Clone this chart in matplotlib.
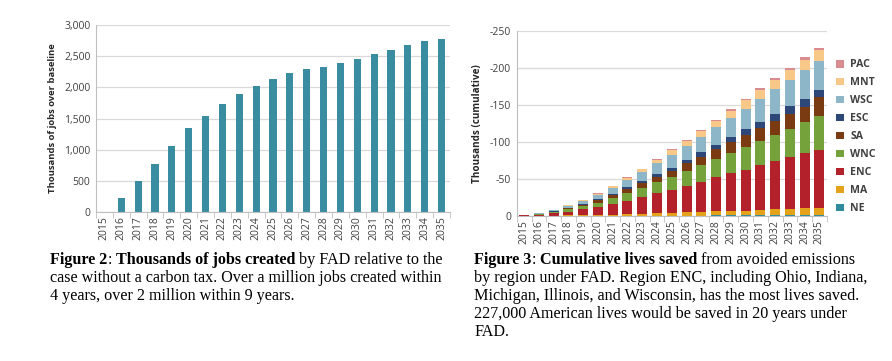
import matplotlib
matplotlib.use("Agg")
import matplotlib.pyplot as plt
import numpy as np

years = [str(y) for y in range(2015, 2036)]

# Figure 2: thousands of jobs over baseline
jobs = [0, 224, 502, 769, 1062, 1340, 1543, 1730, 1890, 2029, 2136,
        2232, 2296, 2333, 2387, 2456, 2536, 2600, 2675, 2739, 2782]

# Figure 3: cumulative lives saved by region (thousands, negative = saved)
NE  = [0.0, 0.0, 0.0, 0.1, 0.1, 0.1, 0.2, 0.3, 0.3, 0.4, 0.4, 0.5, 0.6, 0.7, 0.7, 0.8, 0.9, 0.9, 1.0, 1.0, 1.0]
MA  = [0.1, 0.2, 0.4, 0.7, 1.0, 1.4, 1.8, 2.3, 2.9, 3.5, 3.2, 4.6, 5.2, 5.9, 6.5, 6.0, 7.7, 8.4, 9.0, 9.6, 9.5]
ENC = [0.6, 1.4, 3.0, 5.2, 7.7, 10.7, 14.3, 18.2, 22.4, 27.0, 31.5, 36.0, 40.6, 45.5, 50.4, 55.2, 60.2, 65.1, 70.0, 74.9, 78.5]
WNC = [0.3, 0.8, 1.6, 2.9, 4.2, 5.8, 7.8, 9.9, 12.2, 14.6, 18.0, 19.6, 22.0, 24.7, 27.4, 31.7, 32.7, 35.3, 38.0, 40.7, 46.0]
SA  = [0.2, 0.4, 0.9, 1.5, 2.2, 3.1, 4.1, 5.2, 6.4, 7.7, 8.0, 10.3, 11.6, 13.0, 14.4, 15.8, 17.2, 18.6, 20.0, 21.4, 25.0]
ESC = [0.1, 0.2, 0.4, 0.7, 1.1, 1.5, 2.1, 2.6, 3.2, 3.9, 4.0, 5.2, 5.8, 6.5, 7.2, 8.5, 8.6, 9.3, 10.0, 10.7, 10.0]
WSC = [0.2, 0.7, 1.5, 2.7, 4.0, 5.5, 7.4, 9.4, 11.5, 13.9, 17.0, 18.5, 20.9, 23.4, 25.9, 27.0, 31.0, 33.5, 36.0, 38.5, 39.0]
MNT = [0.1, 0.3, 0.6, 1.0, 1.4, 2.0, 2.7, 3.4, 4.2, 5.0, 6.8, 6.7, 7.5, 8.5, 9.4, 11.0, 11.2, 12.1, 13.0, 13.9, 15.0]
PAC = [0.0, 0.1, 0.1, 0.2, 0.3, 0.4, 0.6, 0.7, 0.9, 1.1, 1.1, 1.5, 1.7, 1.9, 2.2, 2.0, 2.5, 2.8, 3.0, 3.3, 3.0]

region_names = ["NE", "MA", "ENC", "WNC", "SA", "ESC", "WSC", "MNT", "PAC"]
region_vals = [NE, MA, ENC, WNC, SA, ESC, WSC, MNT, PAC]
region_colors = ["#2E8B9E", "#E3A21A", "#B3222A", "#76A23B", "#7A3A12",
                 "#2D4778", "#8EB6C9", "#F7C888", "#D98B90"]

SANS = ["Open Sans", "DejaVu Sans"]
SERIF = ["Liberation Serif", "DejaVu Serif"]
plt.rcParams['font.family'] = SANS

fig = plt.figure(figsize=(8.92, 3.61), dpi=100)

grid_c = "#D9D9D9"
axis_c = "#BFBFBF"
tick_fs = 7.5

def style_axes(ax):
    for s in ["top", "right"]:
        ax.spines[s].set_visible(False)
    ax.spines["left"].set_color(axis_c)
    ax.spines["bottom"].set_color(axis_c)
    ax.set_axisbelow(True)
    ax.yaxis.grid(True, color=grid_c, linewidth=0.9)
    ax.tick_params(axis="y", length=0, labelsize=tick_fs, colors="#404040", pad=4)
    ax.tick_params(axis="x", which="major", length=0, labelsize=tick_fs,
                   colors="#404040", labelrotation=90, pad=3)
    ax.set_xticks(np.arange(-0.5, len(years) + 0.5, 1), minor=True)
    ax.tick_params(axis="x", which="minor", length=4, color=axis_c, direction="out")
    ax.set_xlim(-0.5, len(years) - 0.5)

# Left chart
ax1 = fig.add_axes([0.1076, 0.4127, 0.3969, 0.518])
x = np.arange(len(years))
ax1.bar(x, jobs, width=0.42, color="#3A8DA1")
ax1.set_ylim(0, 3000)
ax1.set_yticks(range(0, 3001, 500))
ax1.set_yticklabels([f"{v:,}" for v in range(0, 3001, 500)])
ax1.set_xticks(x)
ax1.set_xticklabels(years)
style_axes(ax1)
ax1.set_ylabel("Thousands of jobs over baseline", fontsize=6.8, fontweight="bold",
               color="#262626", labelpad=5)

# Right chart
ax2 = fig.add_axes([0.5793, 0.4017, 0.3476, 0.5133])
bottom = np.zeros(len(years))
handles = []
for name, vals, col in zip(region_names, region_vals, region_colors):
    v = -np.array(vals)
    h = ax2.bar(x, v, width=0.68, bottom=bottom, color=col, label=name)
    handles.append(h)
    bottom = bottom + v
ax2.set_ylim(0, -250)
ax2.set_yticks(range(0, -251, -50))
ax2.set_yticklabels(["0", "-50", "-100", "-150", "-200", "-250"])
ax2.set_xticks(x)
ax2.set_xticklabels(years)
style_axes(ax2)
ax2.set_ylabel("Thousands (cumulative)", fontsize=7.1, fontweight="bold",
               color="#262626", labelpad=5)

leg = fig.legend(handles[::-1], region_names[::-1], loc="upper left",
                 bbox_to_anchor=(0.927, 0.862), frameon=False,
                 handlelength=0.75, handleheight=0.75, handletextpad=0.55,
                 labelspacing=0.66, prop={"family": SANS, "size": 7.6, "weight": "bold"})
for t in leg.get_texts():
    t.set_color("#404040")

# Captions
fs_cap = 11.6
fig.canvas.draw()
renderer = fig.canvas.get_renderer()

def text_width(s, weight):
    t = fig.text(0, 0, s, fontsize=fs_cap, family=SERIF, fontweight=weight)
    w = t.get_window_extent(renderer).width
    t.remove()
    return w

space_w = text_width("a a", "normal") - text_width("aa", "normal")

def draw_line(x0, y0, pieces):
    xp = x0
    for s, weight in pieces:
        lead = len(s) - len(s.lstrip(" "))
        trail = len(s) - len(s.rstrip(" "))
        core = s.strip(" ")
        xp += lead * space_w
        if core:
            t = fig.text(xp / 892, 1 - y0 / 361, core, fontsize=fs_cap, family=SERIF,
                         fontweight=weight, va="baseline", ha="left", color="black")
            xp += t.get_window_extent(renderer).width
        xp += trail * space_w

lh = 18
left_cap = [
    [("Figure 2", "bold"), (": ", "normal"), ("Thousands of jobs created", "bold"),
     (" by FAD relative to the", "normal")],
    [("case without a carbon tax. Over a million jobs created within", "normal")],
    [("4 years, over 2 million within 9 years.", "normal")],
]
right_cap = [
    [("Figure 3", "bold"), (": ", "normal"), ("Cumulative lives saved", "bold"),
     (" from avoided emissions", "normal")],
    [("by region under FAD. Region ENC, including Ohio, Indiana,", "normal")],
    [("Michigan, Illinois, and Wisconsin, has the most lives saved.", "normal")],
    [("227,000 American lives would be saved in 20 years under", "normal")],
    [("FAD.", "normal")],
]
for i, line in enumerate(left_cap):
    draw_line(50, 264 + i * lh, line)
for i, line in enumerate(right_cap):
    draw_line(474, 264 + i * lh, line)

fig.savefig("out.png", dpi=100)
